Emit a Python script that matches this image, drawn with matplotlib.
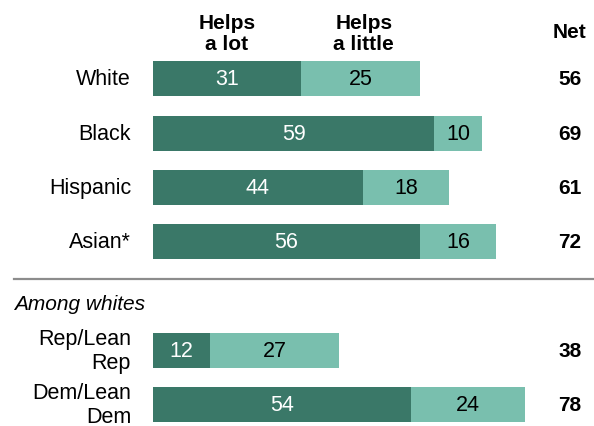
import matplotlib.pyplot as plt

groups = ["White", "Black", "Hispanic", "Asian*", "Rep/Lean\nRep", "Dem/Lean\nDem"]
helps_lot = [31, 59, 44, 56, 12, 54]
helps_little = [25, 10, 18, 16, 27, 24]
net = [56, 69, 61, 72, 38, 78]
rows = [0, 1, 2, 3, 5, 6]

dark = "#3a7868"
light = "#79bfae"
font = "Liberation Sans"

fig = plt.figure(figsize=(5.94, 4.27), dpi=100)
# axes start where the bars start; 1 unit ~ 4.77 px
ax = fig.add_axes([153 / 594, 0, 1 - 153 / 594, 1])
ax.set_xlim(0, (594 - 153) / 4.77)
ax.set_ylim(6.39, -1.47)
ax.axis("off")

ax.barh(rows, helps_lot, height=0.64, color=dark)
ax.barh(rows, helps_little, left=helps_lot, height=0.64, color=light)

for r, g, a, b, n in zip(rows, groups, helps_lot, helps_little, net):
    ax.text(-4.6, r, g, ha="right", va="center", fontsize=15.5, family=font,
            linespacing=1.2, clip_on=False)
    ax.text(a / 2, r, str(a), ha="center", va="center", fontsize=15.5,
            color="white", family=font)
    ax.text(a + b / 2, r, str(b), ha="center", va="center", fontsize=15.5,
            color="black", family=font)
    ax.text(87.4, r, str(n), ha="center", va="center", fontsize=15,
            fontweight="bold", family=font)

# column headers
ax.text(15.5, -0.84, "Helps\na lot", ha="center", va="center", fontsize=15,
        fontweight="bold", family=font, linespacing=1.1)
ax.text(44.2, -0.84, "Helps\na little", ha="center", va="center", fontsize=15,
        fontweight="bold", family=font, linespacing=1.1)
ax.text(87.4, -0.88, "Net", ha="center", va="center", fontsize=15,
        fontweight="bold", family=font)

# separator and subgroup heading
ax.plot([-29.1, 92.5], [3.68, 3.68], color="#8c8c8c", lw=1.6, clip_on=False)
ax.text(-29.1, 4.14, "Among whites", ha="left", va="center", fontsize=15,
        style="italic", family=font, clip_on=False)

fig.savefig("out.png", dpi=100)
